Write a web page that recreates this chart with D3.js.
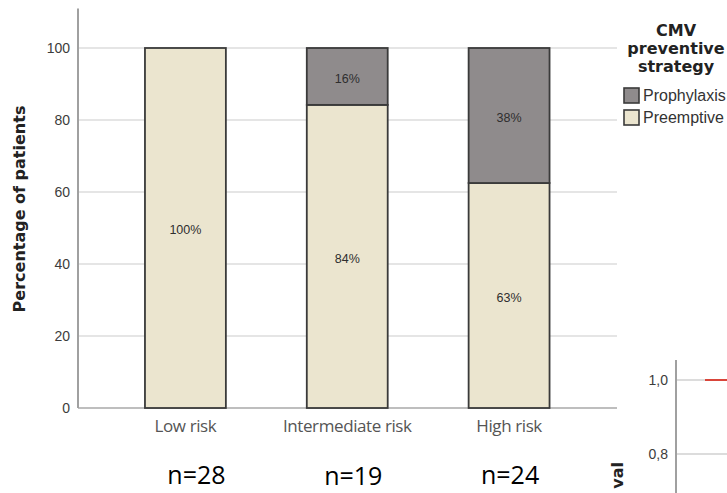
<!DOCTYPE html>
<html>
<head>
<meta charset="utf-8">
<script src="https://cdn.jsdelivr.net/npm/d3@7"></script>
<style>
  html, body { margin: 0; padding: 0; background: #fff; overflow: hidden; }
  svg { display: block; }
</style>
</head>
<body>
<svg id="chart" width="727" height="493"></svg>
<script>
// CMV preventive strategy by risk group (percent of patients)
const categories   = ["Low risk", "Intermediate risk", "High risk"];
const preemptive   = [100, 84.2, 62.5];
const prophylaxis  = [0, 15.8, 37.5];
const sampleSizes  = [28, 19, 24];
const yTicks       = [0, 20, 40, 60, 80, 100];
const seriesNames  = ["Prophylaxis", "Preemptive"];

// Neighbouring survival panel (only its top-left corner is in view)
const survTicks    = [1.0, 0.8];
const survTime     = [0, 12];
const survValue    = [1.0, 1.0];

const colors = { Preemptive: "#ebe5cf", Prophylaxis: "#8f8b8c" };
const stroke = "#3a3a3a";

const svg = d3.select("#chart");

// ---------- scales ----------
const y = d3.scaleLinear().domain([0, 100]).range([408, 48]);
const x = d3.scaleBand().domain(categories).range([104.5, 590]).paddingInner(0.5).paddingOuter(0.25);

const plotLeft = 78, plotRight = 617;

// ---------- gridlines ----------
svg.append("g").selectAll("line")
  .data(yTicks.filter(d => d > 0))
  .join("line")
  .attr("x1", plotLeft).attr("x2", plotRight)
  .attr("y1", d => y(d)).attr("y2", d => y(d))
  .attr("stroke", "#dcdcdc").attr("stroke-width", 1.6);

// baseline
svg.append("line")
  .attr("x1", plotLeft).attr("x2", plotRight)
  .attr("y1", y(0)).attr("y2", y(0))
  .attr("stroke", "#a8a8a8").attr("stroke-width", 1.6);

// ---------- y axis ----------
const yAxis = d3.axisLeft(y).tickValues(yTicks).tickSize(0).tickPadding(8).tickFormat(d3.format("d"));
const gy = svg.append("g").attr("transform", `translate(${plotLeft},0)`).call(yAxis);
gy.select(".domain").remove();
gy.selectAll("text")
  .attr("font-family", "'Liberation Sans', Arial, sans-serif")
  .attr("font-size", 14).attr("fill", "#3c3c3c");
svg.append("line")
  .attr("x1", plotLeft).attr("x2", plotLeft)
  .attr("y1", y(0)).attr("y2", y(111))
  .attr("stroke", "#a0a0a0").attr("stroke-width", 2);

svg.append("text")
  .attr("transform", "translate(25,209) rotate(-90)")
  .attr("text-anchor", "middle")
  .attr("font-family", "'DejaVu Sans', Verdana, sans-serif")
  .attr("font-weight", "bold").attr("font-size", 16).attr("fill", "#222")
  .text("Percentage of patients");

// ---------- stacked bars ----------
const rows = categories.map((c, i) => ({ category: c, Preemptive: preemptive[i], Prophylaxis: prophylaxis[i] }));
const stacked = d3.stack().keys(["Preemptive", "Prophylaxis"])(rows);

const layers = svg.append("g").selectAll("g")
  .data(stacked)
  .join("g")
  .attr("fill", d => colors[d.key]);

layers.selectAll("rect")
  .data(d => d.filter(s => s[1] - s[0] > 0))
  .join("rect")
  .attr("x", d => x(d.data.category))
  .attr("width", x.bandwidth())
  .attr("y", d => y(d[1]))
  .attr("height", d => y(d[0]) - y(d[1]))
  .attr("stroke", stroke).attr("stroke-width", 1.8);

layers.selectAll("text")
  .data(d => d.filter(s => s[1] - s[0] > 0))
  .join("text")
  .attr("x", d => x(d.data.category) + x.bandwidth() / 2)
  .attr("y", d => (y(d[0]) + y(d[1])) / 2 + 3)
  .attr("dominant-baseline", "middle")
  .attr("text-anchor", "middle")
  .attr("font-family", "'Liberation Sans', Arial, sans-serif")
  .attr("font-size", 12.5).attr("fill", "#2e2e2e")
  .text(d => Math.round(d[1] - d[0]) + "%");

// ---------- x axis ----------
const xAxis = d3.axisBottom(x).tickSize(0).tickPadding(12);
const gx = svg.append("g").attr("transform", `translate(0,${y(0)})`).call(xAxis);
gx.select(".domain").remove();
gx.selectAll("text")
  .attr("font-family", "'Open Sans', sans-serif")
  .attr("font-size", 17).attr("fill", "#555")
  .attr("letter-spacing", -0.4);

// sample sizes under each group
const nLabelShift = [11, 6, 1];
const nLabelBase  = [484, 485, 484];
svg.append("g").selectAll("text")
  .data(categories)
  .join("text")
  .attr("x", (c, i) => x(c) + x.bandwidth() / 2 + nLabelShift[i])
  .attr("y", (c, i) => nLabelBase[i])
  .attr("text-anchor", "middle")
  .attr("font-family", "'Open Sans', sans-serif")
  .attr("font-size", 25).attr("fill", "#000")
  .text((c, i) => "n=" + sampleSizes[i]);

// ---------- legend ----------
const legend = svg.append("g");
legend.selectAll("text.title")
  .data(["CMV", "preventive", "strategy"])
  .join("text")
  .attr("class", "title")
  .attr("x", 676)
  .attr("y", (d, i) => 36 + i * 18)
  .attr("text-anchor", "middle")
  .attr("font-family", "'DejaVu Sans', Verdana, sans-serif")
  .attr("font-weight", "bold").attr("font-size", 16).attr("fill", "#222")
  .text(d => d);

const items = legend.selectAll("g.item")
  .data(seriesNames)
  .join("g")
  .attr("class", "item")
  .attr("transform", (d, i) => `translate(624,${88 + i * 22})`);
items.append("rect")
  .attr("width", 15).attr("height", 15)
  .attr("fill", d => colors[d])
  .attr("stroke", stroke).attr("stroke-width", 1.6);
items.append("text")
  .attr("x", 19).attr("y", 13)
  .attr("font-family", "'Liberation Sans', Arial, sans-serif")
  .attr("font-size", 16).attr("fill", "#333")
  .text(d => d);

// ---------- neighbouring survival panel ----------
const sy = d3.scaleLinear().domain([0.8, 1.0]).range([454, 380]);
const sx = d3.scaleLinear().domain([0, 12]).range([705, 900]);
const sLeft = 676;

svg.append("g").selectAll("line")
  .data(survTicks)
  .join("line")
  .attr("x1", sLeft).attr("x2", 727)
  .attr("y1", d => sy(d)).attr("y2", d => sy(d))
  .attr("stroke", "#d0d0d0").attr("stroke-width", 1.4);

svg.append("line")
  .attr("x1", sLeft).attr("x2", sLeft)
  .attr("y1", sy(1.054)).attr("y2", 493)
  .attr("stroke", "#a0a0a0").attr("stroke-width", 2);

svg.append("g").selectAll("text")
  .data(survTicks)
  .join("text")
  .attr("x", sLeft - 8)
  .attr("y", d => sy(d))
  .attr("dy", "0.35em")
  .attr("text-anchor", "end")
  .attr("font-family", "'Liberation Sans', Arial, sans-serif")
  .attr("font-size", 14).attr("fill", "#3c3c3c")
  .text(d => d3.format(".1f")(d).replace(".", ","));

svg.append("path")
  .datum(survTime.map((t, i) => [t, survValue[i]]))
  .attr("fill", "none")
  .attr("stroke", "#d9453a").attr("stroke-width", 2)
  .attr("d", d3.line().x(d => sx(d[0])).y(d => sy(d[1])));

svg.append("text")
  .attr("transform", "translate(623,462) rotate(-90)")
  .attr("text-anchor", "end")
  .attr("font-family", "'DejaVu Sans', Verdana, sans-serif")
  .attr("font-weight", "bold").attr("font-size", 16).attr("fill", "#222")
  .text("val");
</script>
</body>
</html>
